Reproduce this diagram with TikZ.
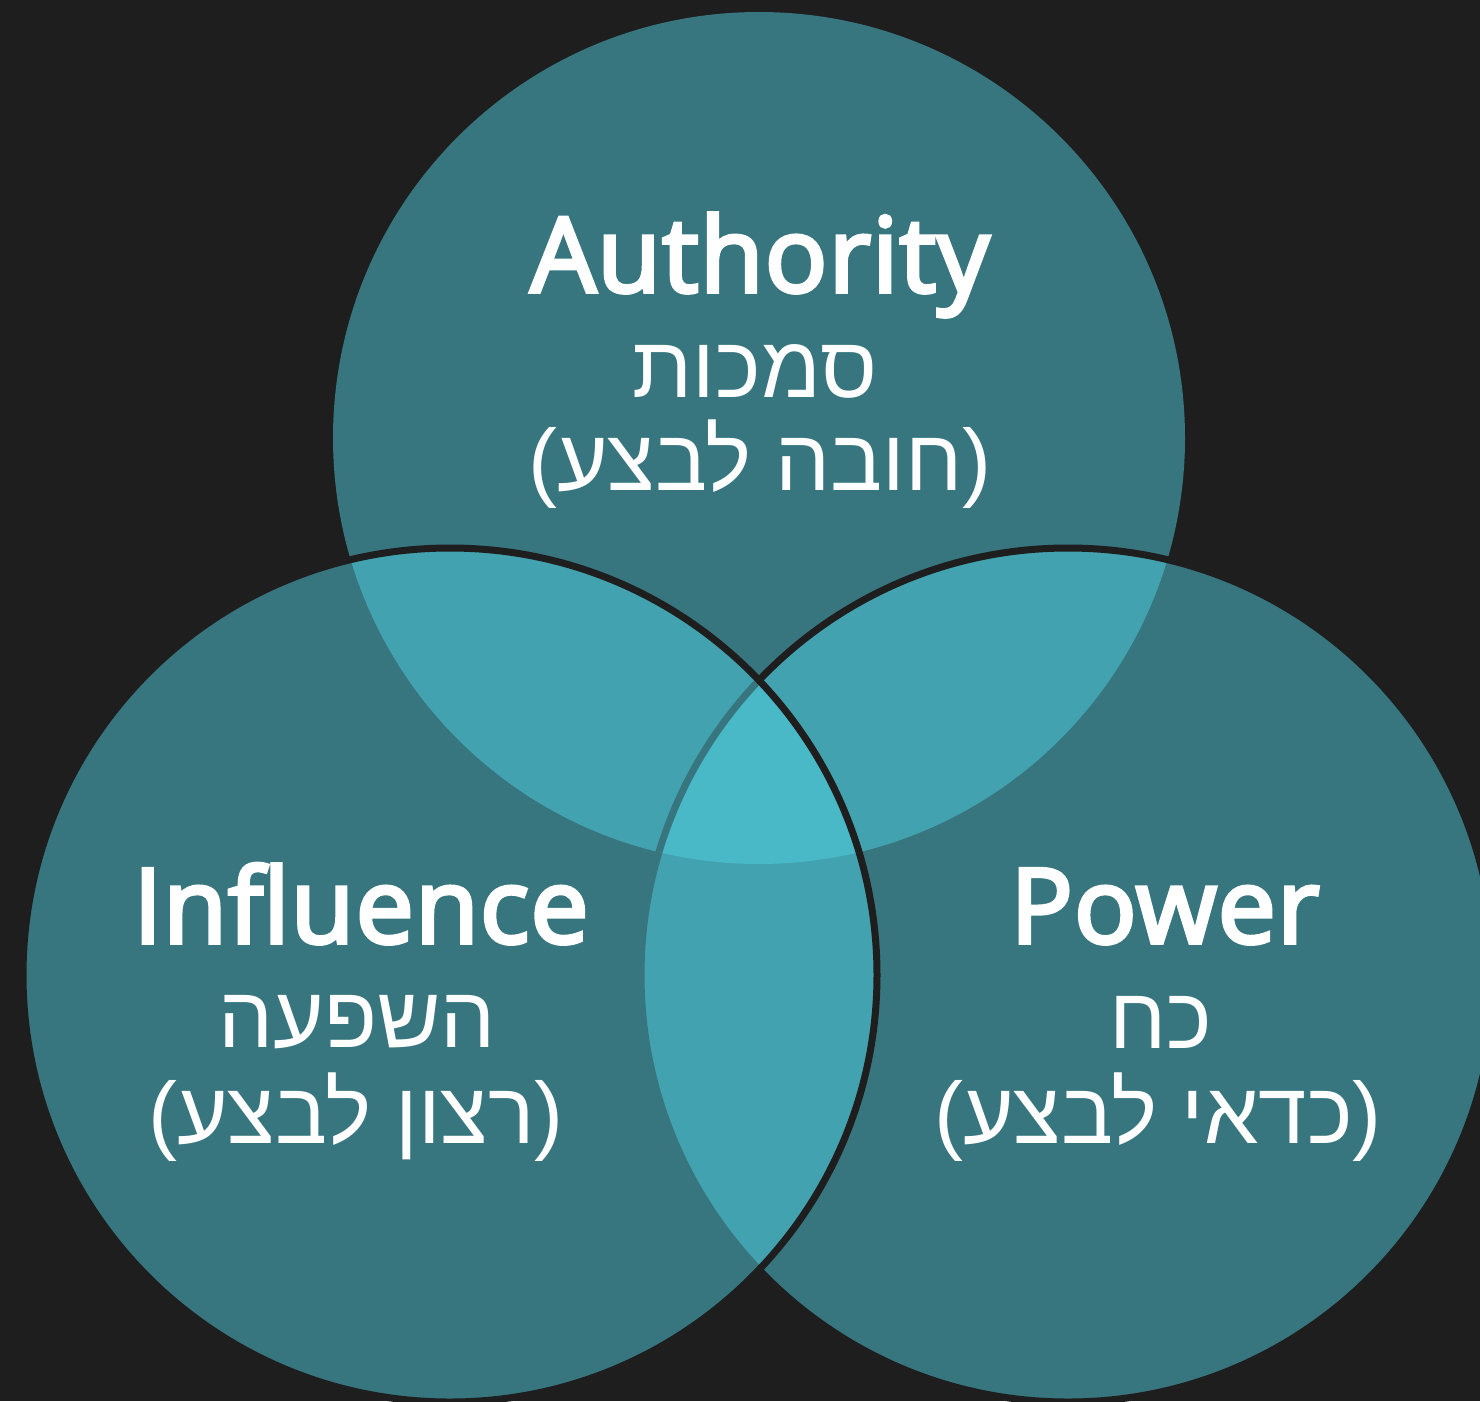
\documentclass[tikz,border=0pt]{standalone}
\usepackage{fontspec}
\setmainfont{Open Sans}
\newfontfamily\headfont[RawFeature={embolden=3.6}, LetterSpace=1]{Open Sans}
\newfontfamily\hebfont[Script=Hebrew]{Liberation Sans}
\newfontfamily\parfont{Liberation Sans}
\TeXXeTstate=1
\definecolor{bgc}{HTML}{1E1E1E}
\definecolor{venn}{HTML}{50CEE0}
\newcommand{\lpar}{{\parfont(}}
\newcommand{\rpar}{{\parfont)}}
\tikzset{
  vcircle/.style={fill=venn, fill opacity=0.5},
  vring/.style={vcircle, draw=bgc, line width=7pt},
  titletext/.style={text=white, font=\headfont\fontsize{104}{110}\selectfont, anchor=base, inner sep=0pt},
  hebtext/.style={text=white, font=\hebfont\fontsize{87}{95}\selectfont, anchor=base, inner sep=0pt},
}
\begin{document}
\begin{tikzpicture}[x=1pt,y=-1pt]
\useasboundingbox (0,0) rectangle (1480,1401);
\fill[bgc] (0,0) rectangle (1480,1401);
\begin{scope}
  \clip (0,0) rectangle (1480,1401);
  \path[vcircle] (759,438) circle[radius=426pt];
  \path[vring] (1068,975) circle[radius=427pt];
  \path[vring] (450,975) circle[radius=427pt];
\end{scope}
% Authority
\node[titletext] (authEn) at (760,292) {Authority};
\node[hebtext] (authHe) at (755,397) {\beginR סמכות\endR};
\node[hebtext] (authSub) at (760,490) {\lpar\beginR חובה לבצע\endR\rpar};
% Influence
\node[titletext] (inflEn) at (361,943) {Influence};
\node[hebtext] (inflHe) at (357,1047) {\beginR השפעה\endR};
\node[hebtext] (inflSub) at (356,1143) {\lpar\beginR רצון לבצע\endR\rpar};
% Power
\node[titletext] (powEn) at (1165,943) {Power};
\node[hebtext] (powHe) at (1161,1048) {\beginR כח\endR};
\node[hebtext] (powSub) at (1158,1143) {\lpar\beginR כדאי לבצע\endR\rpar};
\end{tikzpicture}
\end{document}
